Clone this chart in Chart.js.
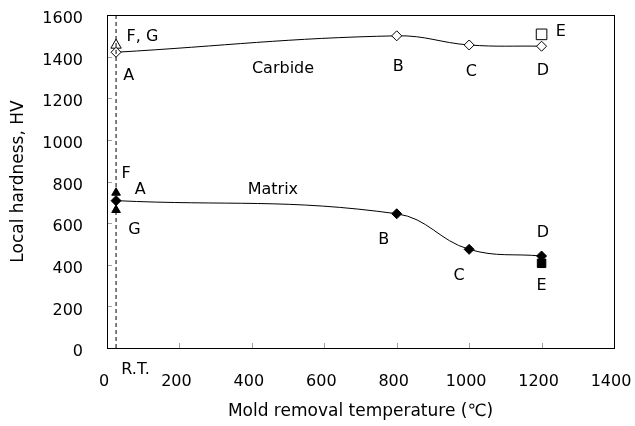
<!DOCTYPE html>
<html><head><meta charset="utf-8">
<script src="https://cdn.jsdelivr.net/npm/chart.js@4/dist/chart.umd.min.js"></script>
<style>html,body{margin:0;padding:0;background:#fff}#wrap{width:635px;height:426px}</style>
</head><body><div id="wrap"><canvas id="c" width="635" height="426"></canvas></div>
<script>
// ---- data ----
const roomTemp = 25;
const temps = [25, 800, 1000, 1200];
const carbideHardness = [1421, 1500, 1456, 1450];
const matrixHardness = [708, 645, 474, 442];
const carbideFG = [1455];          // F, G (open triangle) at R.T.
const matrixFG = [746, 663];       // F, G (filled triangles) at R.T.
const eTemp = 1200;
const carbideE = [1507];           // E (open square)
const matrixE = [407];             // E (filled square)
const xTickValues = [0, 200, 400, 600, 800, 1000, 1200, 1400];
const yTickValues = [0, 200, 400, 600, 800, 1000, 1200, 1400, 1600];
const xTitle = 'Mold removal temperature (\u2103)';
const yTitle = 'Local hardness, HV';
// text labels anchored in data units
const noteTexts = ['F, G', 'A', 'Carbide', 'B', 'C', 'D', 'E', 'F', 'A', 'Matrix', 'G', 'B', 'C', 'D', 'E', 'R.T.'];
const noteX =     [54,     60,  486,       804, 1006, 1204, 1253, 53, 92, 458, 76, 764, 972, 1204, 1200, 79];
const noteY =     [1494,   1308, 1341,     1352, 1328, 1331, 1520, 839, 759, 759, 567, 522, 346, 551, 298, -106];
const noteAlign = ['left', 'center', 'center', 'center', 'center', 'center', 'center', 'center', 'center', 'center', 'center', 'center', 'center', 'center', 'center', 'center'];

const FONT = 'DejaVu Sans';
const pts = (xs, ys) => ys.map((y, i) => ({x: Array.isArray(xs) ? xs[i] : xs, y}));

const framePlugin = {
  id: 'frameAndNotes',
  afterDatasetsDraw(chart) {
    const {ctx, chartArea: a, scales: {x, y}} = chart;
    ctx.save();
    // inward tick marks
    ctx.strokeStyle = '#a0a0a0';
    ctx.lineWidth = 1;
    ctx.beginPath();
    xTickValues.forEach(v => {
      const px = Math.round(x.getPixelForValue(v)) + 0.5;
      ctx.moveTo(px, a.bottom); ctx.lineTo(px, a.bottom - 5);
    });
    yTickValues.forEach(v => {
      const py = Math.round(y.getPixelForValue(v)) + 0.5;
      ctx.moveTo(a.left, py); ctx.lineTo(a.left + 5, py);
    });
    ctx.stroke();
    // frame
    ctx.strokeStyle = '#000';
    ctx.strokeRect(Math.round(a.left) + 0.5, Math.round(a.top) + 0.5, Math.round(a.right - a.left), Math.round(a.bottom - a.top));
    // notes
    ctx.fillStyle = '#000';
    ctx.font = '16px "' + FONT + '"';
    ctx.textBaseline = 'middle';
    noteTexts.forEach((t, i) => {
      ctx.textAlign = noteAlign[i];
      ctx.fillText(t, x.getPixelForValue(noteX[i]), y.getPixelForValue(noteY[i]));
    });
    ctx.restore();
  }
};

new Chart(document.getElementById('c'), {
  type: 'scatter',
  data: {
    datasets: [
      { data: [{x: roomTemp, y: 0}, {x: roomTemp, y: 1600}], showLine: true, borderColor: '#000', borderWidth: 1, borderDash: [4, 3], pointRadius: 0 },
      { data: pts(temps, carbideHardness), showLine: true, tension: 0.4, borderColor: '#000', borderWidth: 1,
        pointStyle: 'rectRot', pointRadius: 5, pointBackgroundColor: '#fff', pointBorderColor: '#000', pointBorderWidth: 1 },
      { data: pts(temps, matrixHardness), showLine: true, tension: 0.4, borderColor: '#000', borderWidth: 1,
        pointStyle: 'rectRot', pointRadius: 5, pointBackgroundColor: '#000', pointBorderColor: '#000', pointBorderWidth: 1 },
      { data: pts(roomTemp, carbideFG), pointStyle: 'triangle', pointRadius: 6, pointBackgroundColor: 'rgba(255,255,255,0)', pointBorderColor: '#000', pointBorderWidth: 1 },
      { data: pts(roomTemp, matrixFG), pointStyle: 'triangle', pointRadius: 5, pointBackgroundColor: '#000', pointBorderColor: '#000', pointBorderWidth: 1 },
      { data: pts(eTemp, carbideE), pointStyle: 'rect', pointRadius: 7.5, pointBackgroundColor: '#fff', pointBorderColor: '#000', pointBorderWidth: 1 },
      { data: pts(eTemp, matrixE), pointStyle: 'rect', pointRadius: 6, pointBackgroundColor: '#000', pointBorderColor: '#000', pointBorderWidth: 1 }
    ]
  },
  options: {
    responsive: false,
    devicePixelRatio: 1,
    animation: false,
    layout: { padding: { top: 15, right: 21, left: 0, bottom: 0 } },
    plugins: { legend: { display: false }, tooltip: { enabled: false } },
    scales: {
      x: {
        type: 'linear', min: 0, max: 1400,
        afterBuildTicks: s => { s.ticks = xTickValues.map(v => ({value: v})); },
        afterFit: s => { s.height = 78; s.paddingLeft = 0; s.paddingRight = 0; },
        grid: { display: false, drawTicks: false },
        border: { display: false },
        ticks: { color: '#000', font: { family: FONT, size: 16 }, padding: 24, labelOffset: -3, maxRotation: 0, callback: v => String(v) },
        title: { display: true, text: xTitle, color: '#000', font: { family: FONT, size: 17 }, padding: { top: 0, bottom: 4 } }
      },
      y: {
        type: 'linear', min: 0, max: 1600,
        afterBuildTicks: s => { s.ticks = yTickValues.map(v => ({value: v})); },
        afterFit: s => { s.width = 107; s.paddingTop = 0; s.paddingBottom = 0; },
        grid: { display: false, drawTicks: false },
        border: { display: false },
        ticks: { color: '#000', font: { family: FONT, size: 16 }, padding: 24, labelOffset: 4, callback: v => String(v) },
        title: { display: true, text: yTitle, color: '#000', font: { family: FONT, size: 17 }, padding: { top: 8, bottom: 0 } }
      }
    }
  },
  plugins: [framePlugin]
});
</script></body></html>
